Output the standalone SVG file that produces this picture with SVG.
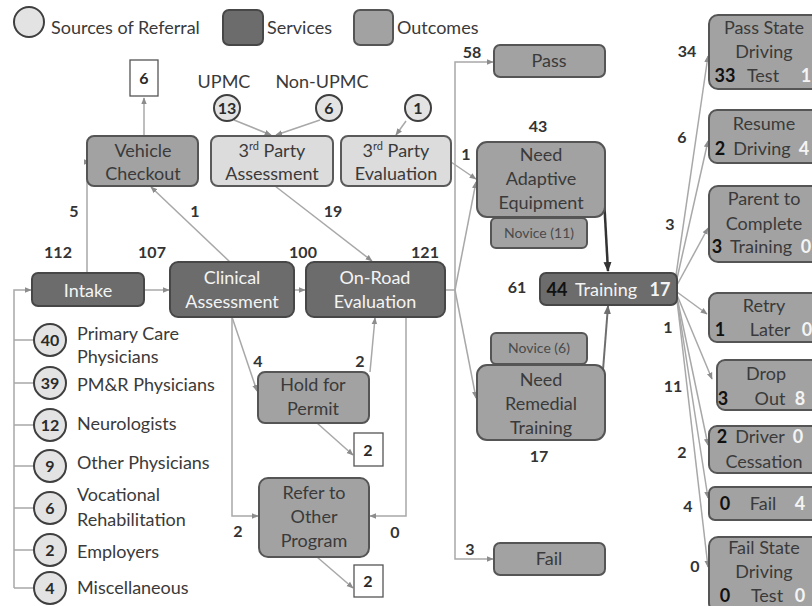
<svg xmlns="http://www.w3.org/2000/svg" width="812" height="606" viewBox="0 0 812 606">
  <style>
    .svc { fill: #6c6c6c; stroke: #474747; stroke-width: 2; }
    .out { fill: #a2a2a2; stroke: #555555; stroke-width: 2; }
    .lt  { fill: #dcdcdc; stroke: #5a5a5a; stroke-width: 2; }
    .src { fill: #e3e3e3; stroke: #3f3f3f; stroke-width: 2; }
    .box { fill: #ffffff; stroke: #555555; stroke-width: 1.3; }
    .ln  { fill: none; stroke: #a8a8a8; stroke-width: 1.5; }
    .t   { font-family: Lato, "Liberation Sans", sans-serif; font-size: 18px; fill: #3a3a3a; text-anchor: middle; }
    .tl  { text-anchor: start; }
    .w   { fill: #f4f4f4; }
    .b   { font-weight: bold; }
    .k   { fill: #111111; font-weight: bold; }
    .n   { font-family: Lato, "Liberation Sans", sans-serif; font-size: 16px; font-weight: bold; fill: #333333; text-anchor: middle; }
    .c   { font-family: Lato, "Liberation Sans", sans-serif; font-size: 16px; font-weight: bold; fill: #2a2a2a; text-anchor: middle; }
    .sm  { font-size: 14px; fill: #4a4a4a; }
  </style>
  <defs>
    <marker id="ah" viewBox="0 0 10 10" refX="9" refY="5" markerWidth="7" markerHeight="7" markerUnits="userSpaceOnUse" orient="auto">
      <path d="M0,1 L10,5 L0,9 z" fill="#8c8c8c"/>
    </marker>
    <marker id="ahd" viewBox="0 0 10 10" refX="9" refY="5" markerWidth="10" markerHeight="10" markerUnits="userSpaceOnUse" orient="auto">
      <path d="M0,1 L10,5 L0,9 z" fill="#333333"/>
    </marker>
    <marker id="ahm" viewBox="0 0 10 10" refX="9" refY="5" markerWidth="9" markerHeight="9" markerUnits="userSpaceOnUse" orient="auto">
      <path d="M0,1 L10,5 L0,9 z" fill="#6e6e6e"/>
    </marker>
  </defs>

  <!-- legend -->
  <g id="legend">
    <circle class="src" cx="29" cy="22" r="15"/>
    <text class="t tl" x="51" y="34">Sources of Referral</text>
    <rect class="svc" x="223" y="10" width="40" height="35" rx="6"/>
    <text class="t tl" x="267" y="34">Services</text>
    <rect class="out" x="354" y="10" width="39" height="35" rx="6"/>
    <text class="t tl" x="397" y="34">Outcomes</text>
  </g>

  <!-- connectors -->
  <g id="connectors">
    <!-- referral sources into intake -->
    <path class="ln" d="M14,588 V290 H31" marker-end="url(#ah)"/>
    <path class="ln" d="M14,340 H33 M14,383 H33 M14,425 H33 M14,466 H33 M14,508 H33 M14,550 H33 M14,588 H33"/>
    <!-- main service chain -->
    <path class="ln" d="M144,290 H169" marker-end="url(#ah)"/>
    <path class="ln" d="M294,290 H305" marker-end="url(#ah)"/>
    <!-- vehicle checkout -->
    <path class="ln" d="M87,273 V162 H90" marker-end="url(#ah)"/>
    <path class="ln" d="M230,262 L151,187" marker-end="url(#ah)"/>
    <path class="ln" d="M144,136 V98" marker-end="url(#ah)"/>
    <!-- third party -->
    <path class="ln" d="M234,120 L271,135" marker-end="url(#ah)"/>
    <path class="ln" d="M320,120 L276,135" marker-end="url(#ah)"/>
    <path class="ln" d="M406,121 L396,135" marker-end="url(#ah)"/>
    <path class="ln" d="M275,186 L372,261" marker-end="url(#ah)"/>
    <path class="ln" d="M451,162 L476,179" marker-end="url(#ah)"/>
    <!-- clinical assessment branches -->
    <path class="ln" d="M232,317 L257,391" marker-end="url(#ah)"/>
    <path class="ln" d="M232,317 V516 H258" marker-end="url(#ah)"/>
    <path class="ln" d="M370,372 L375,318" marker-end="url(#ah)"/>
    <path class="ln" d="M317,423 L353,455" marker-end="url(#ah)"/>
    <path class="ln" d="M406,317 V516 H370" marker-end="url(#ah)"/>
    <path class="ln" d="M317,557 L353,588" marker-end="url(#ah)"/>
    <!-- on-road evaluation outcomes -->
    <path class="ln" d="M445,290 H455"/>
    <path class="ln" d="M455,290 V62 H493" marker-end="url(#ah)"/>
    <path class="ln" d="M455,290 V559 H493" marker-end="url(#ah)"/>
    <path class="ln" d="M455,290 L476,182" marker-end="url(#ah)"/>
    <path class="ln" d="M455,290 L476,398" marker-end="url(#ah)"/>
    <!-- into training -->
    <path d="M603,180 L608,271" fill="none" stroke="#333333" stroke-width="2.5" marker-end="url(#ahd)"/>
    <path d="M603,370 L608,306" fill="none" stroke="#6e6e6e" stroke-width="2" marker-end="url(#ahm)"/>
    <!-- training outcomes -->
    <path class="ln" d="M675,282 L708,56" marker-end="url(#ah)"/>
    <path class="ln" d="M676,283 L708,141" marker-end="url(#ah)"/>
    <path class="ln" d="M677,285 L708,228" marker-end="url(#ah)"/>
    <path class="ln" d="M677,292 L707,314" marker-end="url(#ah)"/>
    <path class="ln" d="M677,295 L712,379" marker-end="url(#ah)"/>
    <path class="ln" d="M677,297 L708,445" marker-end="url(#ah)"/>
    <path class="ln" d="M677,299 L708,498" marker-end="url(#ah)"/>
    <path class="ln" d="M677,300 L708,567" marker-end="url(#ah)"/>
  </g>

  <!-- flow counts -->
  <g id="counts">
    <text class="n" x="58" y="258">112</text>
    <text class="n" x="152" y="258">107</text>
    <text class="n" x="303" y="258">100</text>
    <text class="n" x="425" y="258">121</text>
    <text class="n" x="74" y="217">5</text>
    <text class="n" x="195" y="217">1</text>
    <text class="n" x="333" y="217">19</text>
    <text class="n" x="258" y="367">4</text>
    <text class="n" x="360" y="367">2</text>
    <text class="n" x="238" y="537">2</text>
    <text class="n" x="395" y="538">0</text>
    <text class="n" x="472" y="58">58</text>
    <text class="n" x="470" y="555">3</text>
    <text class="n" x="538" y="132">43</text>
    <text class="n" x="466" y="160">1</text>
    <text class="n" x="539" y="462">17</text>
    <text class="n" x="517" y="293">61</text>
    <text class="n" x="687" y="57">34</text>
    <text class="n" x="682" y="143">6</text>
    <text class="n" x="670" y="230">3</text>
    <text class="n" x="668" y="333">1</text>
    <text class="n" x="673" y="392">11</text>
    <text class="n" x="682" y="458">2</text>
    <text class="n" x="688" y="512">4</text>
    <text class="n" x="695" y="572">0</text>
  </g>

  <!-- referral sources -->
  <g id="src-upmc">
    <text class="t" x="224" y="88">UPMC</text>
    <circle class="src" cx="227" cy="108" r="13"/>
    <text class="c" x="227" y="114">13</text>
  </g>
  <g id="src-non-upmc">
    <text class="t" x="322" y="88">Non-UPMC</text>
    <circle class="src" cx="329" cy="108" r="13"/>
    <text class="c" x="329" y="114">6</text>
  </g>
  <g id="src-eval">
    <circle class="src" cx="418" cy="108" r="13"/>
    <text class="c" x="418" y="114">1</text>
  </g>
  <g id="src-primary">
    <circle class="src" cx="50" cy="340" r="16"/>
    <text class="c" x="50" y="346">40</text>
    <text class="t tl" x="77" y="340">Primary Care</text>
    <text class="t tl" x="77" y="363">Physicians</text>
  </g>
  <g id="src-pmr">
    <circle class="src" cx="50" cy="383" r="16"/>
    <text class="c" x="50" y="389">39</text>
    <text class="t tl" x="77" y="391">PM&amp;R Physicians</text>
  </g>
  <g id="src-neuro">
    <circle class="src" cx="50" cy="425" r="16"/>
    <text class="c" x="50" y="431">12</text>
    <text class="t tl" x="77" y="430">Neurologists</text>
  </g>
  <g id="src-other">
    <circle class="src" cx="50" cy="466" r="16"/>
    <text class="c" x="50" y="472">9</text>
    <text class="t tl" x="77" y="469">Other Physicians</text>
  </g>
  <g id="src-voc">
    <circle class="src" cx="50" cy="508" r="16"/>
    <text class="c" x="50" y="514">6</text>
    <text class="t tl" x="77" y="501">Vocational</text>
    <text class="t tl" x="77" y="526">Rehabilitation</text>
  </g>
  <g id="src-employers">
    <circle class="src" cx="50" cy="550" r="16"/>
    <text class="c" x="50" y="556">2</text>
    <text class="t tl" x="77" y="558">Employers</text>
  </g>
  <g id="src-misc">
    <circle class="src" cx="50" cy="588" r="16"/>
    <text class="c" x="50" y="594">4</text>
    <text class="t tl" x="77" y="594">Miscellaneous</text>
  </g>

  <!-- services -->
  <g id="intake">
    <rect class="svc" x="32" y="273" width="112" height="33" rx="6"/>
    <text class="t w" x="88" y="297">Intake</text>
  </g>
  <g id="clinical">
    <rect class="svc" x="170" y="262" width="124" height="55" rx="8"/>
    <text class="t w" x="232" y="284">Clinical</text>
    <text class="t w" x="232" y="308">Assessment</text>
  </g>
  <g id="onroad">
    <rect class="svc" x="306" y="262" width="139" height="55" rx="8"/>
    <text class="t w" x="375" y="284">On-Road</text>
    <text class="t w" x="375" y="308">Evaluation</text>
  </g>
  <g id="training">
    <rect class="svc" x="540" y="273" width="137" height="32" rx="6"/>
    <text class="t k" x="557" y="296">44</text>
    <text class="t w" x="606" y="296">Training</text>
    <text class="t w b" x="660" y="296">17</text>
  </g>

  <!-- third party -->
  <g id="third-assess">
    <rect class="lt" x="211" y="136" width="122" height="50" rx="7"/>
    <text class="t" x="272" y="157">3<tspan font-size="11" dy="-7">rd</tspan><tspan dy="7"> Party</tspan></text>
    <text class="t" x="272" y="180">Assessment</text>
  </g>
  <g id="third-eval">
    <rect class="lt" x="341" y="136" width="110" height="50" rx="7"/>
    <text class="t" x="396" y="157">3<tspan font-size="11" dy="-7">rd</tspan><tspan dy="7"> Party</tspan></text>
    <text class="t" x="396" y="180">Evaluation</text>
  </g>

  <!-- outcomes -->
  <g id="vehicle">
    <rect class="out" x="87" y="136" width="111" height="50" rx="7"/>
    <text class="t" x="143" y="157">Vehicle</text>
    <text class="t" x="143" y="180">Checkout</text>
  </g>
  <g id="vehicle-count">
    <rect class="box" x="130" y="60" width="28" height="36"/>
    <text class="c" x="144" y="84">6</text>
  </g>
  <g id="hold">
    <rect class="out" x="258" y="372" width="111" height="51" rx="7"/>
    <text class="t" x="313" y="391">Hold for</text>
    <text class="t" x="313" y="415">Permit</text>
  </g>
  <g id="hold-count">
    <rect class="box" x="354" y="433" width="29" height="33"/>
    <text class="c" x="368" y="456">2</text>
  </g>
  <g id="refer">
    <rect class="out" x="259" y="478" width="110" height="79" rx="9"/>
    <text class="t" x="314" y="499">Refer to</text>
    <text class="t" x="314" y="523">Other</text>
    <text class="t" x="314" y="547">Program</text>
  </g>
  <g id="refer-count">
    <rect class="box" x="354" y="565" width="29" height="32"/>
    <text class="c" x="368" y="587">2</text>
  </g>
  <g id="pass">
    <rect class="out" x="494" y="45" width="111" height="32" rx="6"/>
    <text class="t" x="549" y="67">Pass</text>
  </g>
  <g id="adaptive">
    <rect class="out" x="491" y="218" width="96" height="30" rx="5"/>
    <text class="t sm" x="539" y="238">Novice (11)</text>
    <rect class="out" x="477" y="142" width="128" height="75" rx="10"/>
    <text class="t" x="541" y="161">Need</text>
    <text class="t" x="541" y="185">Adaptive</text>
    <text class="t" x="541" y="209">Equipment</text>
  </g>
  <g id="remedial">
    <rect class="out" x="491" y="333" width="96" height="31" rx="5"/>
    <text class="t sm" x="539" y="353">Novice (6)</text>
    <rect class="out" x="477" y="365" width="128" height="75" rx="10"/>
    <text class="t" x="541" y="386">Need</text>
    <text class="t" x="541" y="410">Remedial</text>
    <text class="t" x="541" y="434">Training</text>
  </g>
  <g id="fail">
    <rect class="out" x="494" y="543" width="111" height="32" rx="6"/>
    <text class="t" x="549" y="565">Fail</text>
  </g>

  <!-- training outcomes -->
  <g id="pass-state">
    <rect class="out" x="709" y="15" width="112" height="74" rx="9"/>
    <text class="t" x="764" y="34">Pass State</text>
    <text class="t" x="764" y="58">Driving</text>
    <text class="t k" x="725" y="82">33</text>
    <text class="t" x="763" y="82">Test</text>
    <text class="t w b" x="806" y="82">1</text>
  </g>
  <g id="resume">
    <rect class="out" x="709" y="110" width="112" height="53" rx="8"/>
    <text class="t" x="764" y="130">Resume</text>
    <text class="t k" x="720" y="155">2</text>
    <text class="t" x="762" y="155">Driving</text>
    <text class="t w b" x="804" y="155">4</text>
  </g>
  <g id="parent">
    <rect class="out" x="709" y="186" width="112" height="76" rx="9"/>
    <text class="t" x="764" y="205">Parent to</text>
    <text class="t" x="764" y="230">Complete</text>
    <text class="t k" x="717" y="253">3</text>
    <text class="t" x="761" y="253">Training</text>
    <text class="t w b" x="806" y="253">0</text>
  </g>
  <g id="retry">
    <rect class="out" x="709" y="293" width="112" height="49" rx="8"/>
    <text class="t" x="764" y="312">Retry</text>
    <text class="t k" x="720" y="336">1</text>
    <text class="t" x="770" y="336">Later</text>
    <text class="t w b" x="807" y="336">0</text>
  </g>
  <g id="dropout">
    <rect class="out" x="717" y="360" width="104" height="50" rx="8"/>
    <text class="t" x="766" y="380">Drop</text>
    <text class="t k" x="723" y="405">3</text>
    <text class="t" x="770" y="405">Out</text>
    <text class="t w b" x="800" y="405">8</text>
  </g>
  <g id="cessation">
    <rect class="out" x="709" y="426" width="112" height="47" rx="8"/>
    <text class="t k" x="722" y="443">2</text>
    <text class="t" x="760" y="443">Driver</text>
    <text class="t w b" x="798" y="443">0</text>
    <text class="t" x="764" y="468">Cessation</text>
  </g>
  <g id="fail-training">
    <rect class="out" x="709" y="487" width="112" height="33" rx="6"/>
    <text class="t k" x="725" y="510">0</text>
    <text class="t" x="763" y="510">Fail</text>
    <text class="t w b" x="800" y="510">4</text>
  </g>
  <g id="fail-state">
    <rect class="out" x="709" y="537" width="112" height="75" rx="9"/>
    <text class="t" x="764" y="554">Fail State</text>
    <text class="t" x="764" y="578">Driving</text>
    <text class="t k" x="725" y="602">0</text>
    <text class="t" x="767" y="602">Test</text>
    <text class="t w b" x="800" y="602">0</text>
  </g>
</svg>
